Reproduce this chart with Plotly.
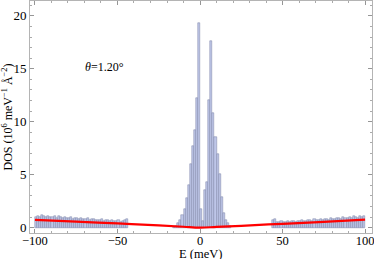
import numpy as np
import plotly.graph_objects as go

bin_width = 1.25

# Left tail bins (-100 .. -43.75)
left_start = -100.0
left_vals = [1.0, 1.1, 1.0, 1.2, 1.1, 1.0, 1.15, 1.05, 1.0, 1.1, 0.95, 1.1, 1.0, 0.9, 1.05,
             0.95, 0.9, 1.0, 0.85, 0.95, 0.9, 0.8, 0.95, 0.85, 0.8, 0.9, 0.75, 0.8, 0.85, 0.7,
             0.75, 0.7, 0.8, 0.65, 0.7, 0.75, 0.6, 0.7, 0.65, 0.6, 0.7, 0.55, 0.6, 0.75, 0.8]

# Central peak bins (-16.25 .. 18.75)
center_start = -16.25
center_vals = [0.1, 0.2, 0.4, 0.7, 1.2, 1.8, 2.8, 4.0, 6.0, 7.7, 9.2, 12.2, 19.3,
               1.8, 0.6, 3.6, 4.3, 12.1, 17.6, 10.8, 8.6, 7.0, 5.1, 2.9, 1.4, 0.7, 0.4, 0.2]

# Right tail bins (43.75 .. 100)
right_start = 43.75
right_vals = [0.7, 0.8, 0.55, 0.5, 0.6, 0.55, 0.5, 0.6, 0.55, 0.65, 0.6, 0.55, 0.65, 0.6, 0.7,
              0.65, 0.6, 0.7, 0.75, 0.65, 0.8, 0.7, 0.75, 0.85, 0.7, 0.8, 0.85, 0.75, 0.9, 0.85,
              0.8, 0.95, 0.9, 0.85, 1.0, 0.9, 0.95, 1.05, 0.9, 1.1, 1.0, 0.95, 1.1, 1.05, 1.1]

# Theoretical DOS (red curve)
curve_E = [-100, -75, -50, -25, -10, 0, 10, 25, 50, 75, 100]
curve_dos = [0.74, 0.57, 0.40, 0.22, 0.09, 0.0, 0.08, 0.18, 0.37, 0.55, 0.77]

x_ticks = [-100, -50, 0, 50, 100]
y_ticks = [0, 5, 10, 15, 20]
label_text = "<i>θ</i>=1.20°"
x_title = "E (meV)"
y_title = "DOS (10<sup>6</sup> meV<sup>−1</sup> Å<sup>−2</sup>)"


def centers(start, n):
    return [start + bin_width * (i + 0.5) for i in range(n)]


bar_x = centers(left_start, len(left_vals)) + centers(center_start, len(center_vals)) + centers(right_start, len(right_vals))
bar_y = left_vals + center_vals + right_vals

fig = go.Figure()
fig.add_trace(go.Bar(
    x=bar_x, y=bar_y, width=bin_width,
    marker=dict(color="rgb(190,198,232)", line=dict(color="rgb(125,130,165)", width=0.5)),
    showlegend=False,
))
fig.add_trace(go.Scatter(
    x=curve_E, y=curve_dos, mode="lines",
    line=dict(color="rgb(255,0,0)", width=2.2, shape="spline"),
    showlegend=False,
))

fig.add_annotation(x=-58, y=15.2, text=label_text, showarrow=False,
                   font=dict(family="Liberation Serif", size=12, color="black"))
fig.add_annotation(x=0, xref="x", y=1.0, yref="paper", yshift=-252.5, yanchor="middle",
                   text=x_title, showarrow=False,
                   font=dict(family="Liberation Serif", size=12.5, color="black"))

axis_common = dict(
    showline=True, mirror="ticks", linecolor="rgb(180,180,180)", linewidth=1,
    ticks="inside", ticklen=4, tickcolor="rgb(150,150,150)", tickwidth=0.8,
    showgrid=False, zeroline=False, ticklabeloverflow="allow",
)

fig.update_layout(
    width=374, height=259,
    margin=dict(l=30, r=2, t=1, b=26),
    paper_bgcolor="white", plot_bgcolor="white",
    bargap=0,
    xaxis=dict(range=[-103, 104.2], tickvals=x_ticks, ticklabelstandoff=-4,
               tickfont=dict(family="Liberation Serif", size=12.5, color="black"),
               minor=dict(dtick=10, ticklen=2, tickcolor="rgb(170,170,170)", ticks="inside"),
               automargin=False, **axis_common),
    yaxis=dict(range=[-0.5, 21.4], tickvals=y_ticks,
               tickfont=dict(family="Liberation Serif", size=13, color="black"),
               minor=dict(dtick=1, ticklen=2, tickcolor="rgb(170,170,170)", ticks="inside"),
               title=dict(text=y_title, standoff=2,
                          font=dict(family="Liberation Serif", size=12, color="black")),
               automargin=False, **axis_common),
)

fig.write_html("out.html", config={"displayModeBar": False},
               post_script="document.body.style.margin='0';document.body.style.padding='0';document.body.style.overflow='hidden';")
